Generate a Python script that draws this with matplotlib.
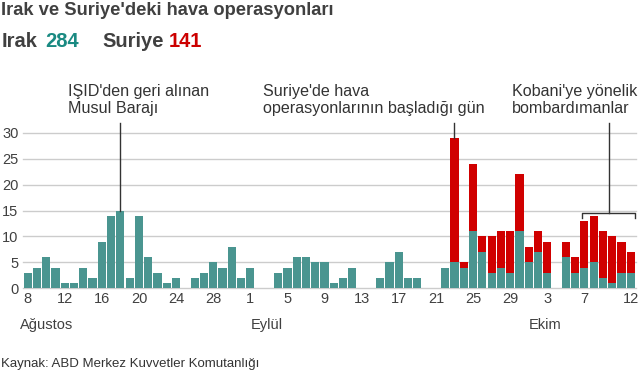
import matplotlib
matplotlib.use("Agg")
import matplotlib.pyplot as plt
import numpy as np
import pandas as pd

plt.rcParams['font.family'] = ['Liberation Sans', 'DejaVu Sans']

# ---- data ----
dates = pd.date_range("2014-08-08", "2014-10-12", freq="D")
iraq = [3, 4, 6, 4, 1, 1, 4, 2, 9, 14, 15, 2, 14, 6, 3, 1, 2, 0, 2, 3, 5, 4, 8, 2,
        4, 0, 0, 3, 4, 6, 6, 5, 5, 1, 2, 4, 0, 0, 2, 5, 7, 2, 2, 0, 0, 4, 5, 4, 11, 7, 3, 4, 3, 11,
        5, 7, 3, 0, 6, 3, 4, 5, 2, 1, 3, 3]
syria = [0] * 24 + [0] * 22 + [24, 1, 13, 3, 7, 7, 8, 11] + \
        [3, 4, 6, 0, 3, 3, 9, 9, 9, 9, 6, 4]
tick_days = [8, 12, 16, 20, 24, 28, 1, 5, 9, 13, 17, 21, 25, 29, 3, 7, 12]
months = ["Ağustos", "Eylül", "Ekim"]
yticks = [0, 5, 10, 15, 20, 25, 30]

TEAL = "#4a9590"
RED = "#d00000"
GRAY = "#404040"

W, H = 640, 374
fig = plt.figure(figsize=(W / 100, H / 100), dpi=100)

def fx(px):
    return px / W

def fy(py):
    return 1 - py / H

ax_l, ax_r, ax_t, ax_b = 22.7, 636.0, 132.7, 288.3
ax = fig.add_axes([fx(ax_l), fy(ax_b), (ax_r - ax_l) / W, (ax_b - ax_t) / H])

x = np.arange(len(dates))
ax.bar(x, iraq, width=0.88, color=TEAL, zorder=3)
ax.bar(x, syria, bottom=iraq, width=0.88, color=RED, zorder=3)

ax.set_xlim(-0.53, 65.56)
ax.set_ylim(0, 30)
for yv in yticks:
    ax.axhline(yv, color="#cccccc", lw=1, zorder=1, clip_on=False)
for s in ax.spines.values():
    s.set_visible(False)
ax.set_yticks(yticks)
ax.set_yticklabels([str(v) for v in yticks], fontsize=10.5, color=GRAY)
ax.tick_params(axis="y", length=0, pad=3)

tick_idx = [i for i in range(0, 61, 4)] + [65]
ax.set_xticks(tick_idx)
ax.set_xticklabels([str(d) for d in tick_days], fontsize=10.5, color=GRAY)
ax.tick_params(axis="x", length=0, pad=3)

# month labels
month_x = [20, 250.4, 528.8]
for m, mx in zip(months, month_x):
    fig.text(fx(mx), fy(325), m, fontsize=10.5, color=GRAY, ha="left", va="center")

# annotations
ytop = (ax_b - 123) / (ax_b - ax_t) * 30
ax.plot([10, 10], [iraq[10], ytop], color="#333333", lw=1, clip_on=False, zorder=4)
ax.plot([46, 46], [iraq[46] + syria[46], ytop], color="#333333", lw=1, clip_on=False, zorder=4)
bx0, bx1, by, byt = 59.7, 65.45, 14.45, 13.6
ax.plot([bx0, bx0, bx1, bx1], [byt, by, by, byt], color="#333333", lw=1, clip_on=False, zorder=4)
ax.plot([62.65, 62.65], [by, ytop], color="#333333", lw=1, clip_on=False, zorder=4)

afs = 11.6
for tx, l1, l2 in [(68.3, "IŞID'den geri alınan", "Musul Barajı"),
                   (263, "Suriye'de hava", "operasyonlarının başladığı gün"),
                   (511.7, "Kobani'ye yönelik", "bombardımanlar")]:
    fig.text(fx(tx), fy(96), l1, fontsize=afs, color="#333333", ha="left", va="baseline")
    fig.text(fx(tx), fy(113), l2, fontsize=afs, color="#333333", ha="left", va="baseline")

# titles
fig.text(fx(1), fy(15), "Irak ve Suriye'deki hava operasyonları", fontsize=13.2,
         fontweight="bold", color=GRAY, ha="left", va="baseline")
sfs = 14.5
fig.text(fx(2), fy(47.3), "Irak", fontsize=sfs, fontweight="bold", color=GRAY, ha="left", va="baseline")
fig.text(fx(45), fy(47.3), "284", fontsize=sfs, fontweight="bold", color="#1a8a82", ha="left", va="baseline")
fig.text(fx(102), fy(47.3), "Suriye", fontsize=sfs, fontweight="bold", color=GRAY, ha="left", va="baseline")
fig.text(fx(169), fy(47.3), "141", fontsize=sfs, fontweight="bold", color="#cc0000", ha="left", va="baseline")

fig.text(fx(1), fy(364), "Kaynak: ABD Merkez Kuvvetler Komutanlığı", fontsize=9.5,
         color="#333333", ha="left", va="center")

fig.savefig("out.png", dpi=100)
